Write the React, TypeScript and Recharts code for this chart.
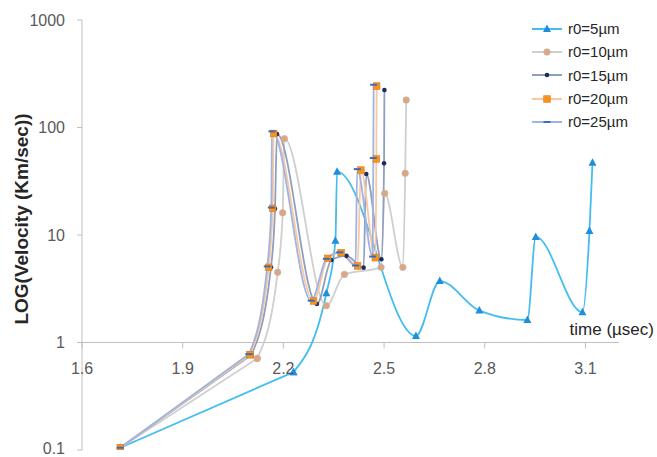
import React from 'react';
import { LineChart, Line, XAxis, YAxis, ReferenceLine } from 'recharts';

// time (µsec) / velocity (km/sec), one pair of arrays per radius
const t5 = [1.714, 2.23, 2.328, 2.355, 2.36, 2.595, 2.666, 2.784, 2.927, 2.952, 3.091, 3.112, 3.121];
const v5 = [0.105, 0.53, 2.87, 8.85, 38.8, 1.15, 3.73, 1.98, 1.62, 9.6, 1.91, 10.9, 47];

const t10 = [1.714, 2.122, 2.183, 2.198, 2.203, 2.328, 2.382, 2.491, 2.502, 2.556, 2.563, 2.566];
const v10 = [0.105, 0.71, 4.5, 16.1, 78.7, 2.2, 4.3, 5.0, 24.4, 5.0, 37.5, 180];

const t15 = [1.714, 2.105, 2.163, 2.175, 2.181, 2.3, 2.343, 2.388, 2.439, 2.447, 2.492, 2.5, 2.501];
const v15 = [0.105, 0.77, 5.0, 17.5, 87, 2.28, 5.85, 6.4, 4.97, 36.9, 5.94, 46.4, 223];

const t20 = [1.714, 2.101, 2.156, 2.168, 2.171, 2.29, 2.332, 2.372, 2.421, 2.431, 2.474, 2.477, 2.478];
const v20 = [0.105, 0.77, 5.0, 17.7, 88, 2.43, 6.07, 6.85, 5.15, 40.2, 6.15, 51, 243];

const t25 = [1.714, 2.098, 2.152, 2.164, 2.166, 2.283, 2.328, 2.368, 2.415, 2.42, 2.466, 2.468, 2.469];
const v25 = [0.105, 0.78, 5.1, 18, 92, 2.45, 6.0, 6.9, 5.2, 41, 6.3, 52, 250];

const xTicks = [1.6, 1.9, 2.2, 2.5, 2.8, 3.1];
const yTicks = [0.1, 1, 10, 100, 1000];

const toRows = (t: number[], v: number[]) => t.map((x, i) => ({ x, v: v[i] }));

const W = 657;
const H = 457;
const X_AXIS_H = 1;
const MARGIN = { top: 20, right: 38, bottom: 6, left: 10 };
const Y_AXIS_W = 72;
const PLOT_H = H - MARGIN.top - MARGIN.bottom - X_AXIS_H;
// the x axis crosses at v = 1, three decades below the top of 0.1..1000
const AXIS_Y = MARGIN.top + (PLOT_H * 3) / 4;

const FONT = '"Liberation Sans", Arial, sans-serif';

const triangle = (color: string) => (p: any) => (
    <polygon
        key={`t${p.index}`}
        points={`${p.cx},${p.cy - 4.5} ${p.cx - 4},${p.cy + 3} ${p.cx + 4},${p.cy + 3}`}
        fill={color}
    />
);
const circle = (color: string) => (p: any) => (
    <circle key={`c${p.index}`} cx={p.cx} cy={p.cy} r={3.2} fill={color} stroke="#c9b3a0" strokeWidth={0.8} />
);
const square = (color: string) => (p: any) => (
    <rect key={`s${p.index}`} x={p.cx - 3.3} y={p.cy - 3.3} width={6.6} height={6.6} fill={color} stroke="#e07b1a" strokeWidth={0.6} />
);
const smallDot = (color: string) => (p: any) => (
    <circle key={`d${p.index}`} cx={p.cx} cy={p.cy} r={2.3} fill={color} />
);
const dash = (color: string) => (p: any) => (
    <rect key={`h${p.index}`} x={p.cx - 3.5} y={p.cy - 1} width={7} height={2} fill={color} />
);

const series = [
    { name: 'r0=5µm', data: toRows(t5, v5), line: '#45bdf0', dot: triangle('#1e8fde') },
    { name: 'r0=10µm', data: toRows(t10, v10), line: '#cfcfcf', dot: circle('#dca684') },
    { name: 'r0=15µm', data: toRows(t15, v15), line: '#8f9fc0', dot: smallDot('#1d2b5e') },
    { name: 'r0=20µm', data: toRows(t20, v20), line: '#f9c7a2', dot: square('#f7941d') },
    { name: 'r0=25µm', data: toRows(t25, v25), line: '#9fb4de', dot: dash('#3a6cc6') },
];

const XTick = (props: any) => {
    const { x, payload } = props;
    return (
        <g>
            <line x1={x} x2={x} y1={AXIS_Y} y2={AXIS_Y + 6} stroke="#bfbfbf" />
            <text x={x} y={AXIS_Y + 31} textAnchor="middle" fill="#595959" fontSize={16} fontFamily={FONT}>
                {payload.value}
            </text>
        </g>
    );
};

const YTick = (props: any) => {
    const { x, y, payload } = props;
    // lowest label sits right on the bottom edge, nudge it up a hair
    const dy = payload.value === 0.1 ? -2 : 0;
    return (
        <text x={x} y={y + dy} dy="0.355em" textAnchor="end" fill="#595959" fontSize={16} fontFamily={FONT}>
            {String(payload.value)}
        </text>
    );
};

const LegendMark = ({ s }: { s: (typeof series)[number] }) => {
    const p = { cx: 15, cy: 7, index: 0 };
    return (
        <svg width={30} height={14} style={{ display: 'block' }}>
            <line x1={0} x2={30} y1={7} y2={7} stroke={s.line} strokeWidth={2} />
            {s.dot(p)}
        </svg>
    );
};

export default function App() {
    return (
        <div style={{ position: 'absolute', left: 0, top: 0, width: W, height: H, background: '#fff', fontFamily: FONT }}>
            <LineChart width={W} height={H} margin={MARGIN}>
                <XAxis
                    dataKey="x"
                    type="number"
                    domain={[1.6, 3.2]}
                    ticks={xTicks}
                    interval={0}
                    height={X_AXIS_H}
                    axisLine={false}
                    tickLine={false}
                    tick={(p: any) => <XTick key={`x${p.index}`} {...p} />}
                    allowDataOverflow
                />
                <YAxis
                    scale="log"
                    type="number"
                    domain={[0.1, 1000]}
                    ticks={yTicks}
                    interval={0}
                    width={Y_AXIS_W}
                    allowDataOverflow
                    stroke="#bfbfbf"
                    tickSize={5}
                    tickMargin={12}
                    tick={(p: any) => <YTick key={`y${p.index}`} {...p} />}
                    label={{
                        content: () => (
                            <text
                                x={0}
                                y={0}
                                transform={`translate(28, 219) rotate(-90)`}
                                textAnchor="middle"
                                fontWeight="bold"
                                fontSize={19}
                                fill="#262626"
                                fontFamily={FONT}
                            >
                                LOG(Velocity (Km/sec))
                            </text>
                        ),
                    }}
                />
                <ReferenceLine
                    y={1}
                    stroke="#bfbfbf"
                    strokeWidth={1}
                    label={{
                        content: (p: any) => {
                            const vb = p.viewBox || {};
                            return (
                                <text
                                    x={(vb.x || 0) + (vb.width || 0) + 35}
                                    y={(vb.y || 0) - 8}
                                    textAnchor="end"
                                    fontSize={17}
                                    fill="#262626"
                                    fontFamily={FONT}
                                >
                                    time (µsec)
                                </text>
                            );
                        },
                    }}
                />
                {/* first stretch of each run is almost straight in the source, draw it linear */}
                {series.map(s => (
                    <Line
                        key={`${s.name}-head`}
                        data={s.data.slice(0, 2)}
                        dataKey="v"
                        type="linear"
                        stroke={s.line}
                        strokeWidth={1.8}
                        dot={s.dot}
                        activeDot={false}
                        legendType="none"
                        isAnimationActive={false}
                    />
                ))}
                {series.map(s => (
                    <Line
                        key={s.name}
                        data={s.data.slice(1)}
                        dataKey="v"
                        name={s.name}
                        type="monotone"
                        stroke={s.line}
                        strokeWidth={1.8}
                        dot={s.dot}
                        activeDot={false}
                        isAnimationActive={false}
                    />
                ))}
            </LineChart>
            <div style={{ position: 'absolute', left: 532, top: 17 }}>
                {series.map(s => (
                    <div key={s.name} style={{ display: 'flex', alignItems: 'center', height: 23.3 }}>
                        <LegendMark s={s} />
                        <span style={{ marginLeft: 6, fontSize: 15, color: '#262626' }}>{s.name}</span>
                    </div>
                ))}
            </div>
        </div>
    );
}
